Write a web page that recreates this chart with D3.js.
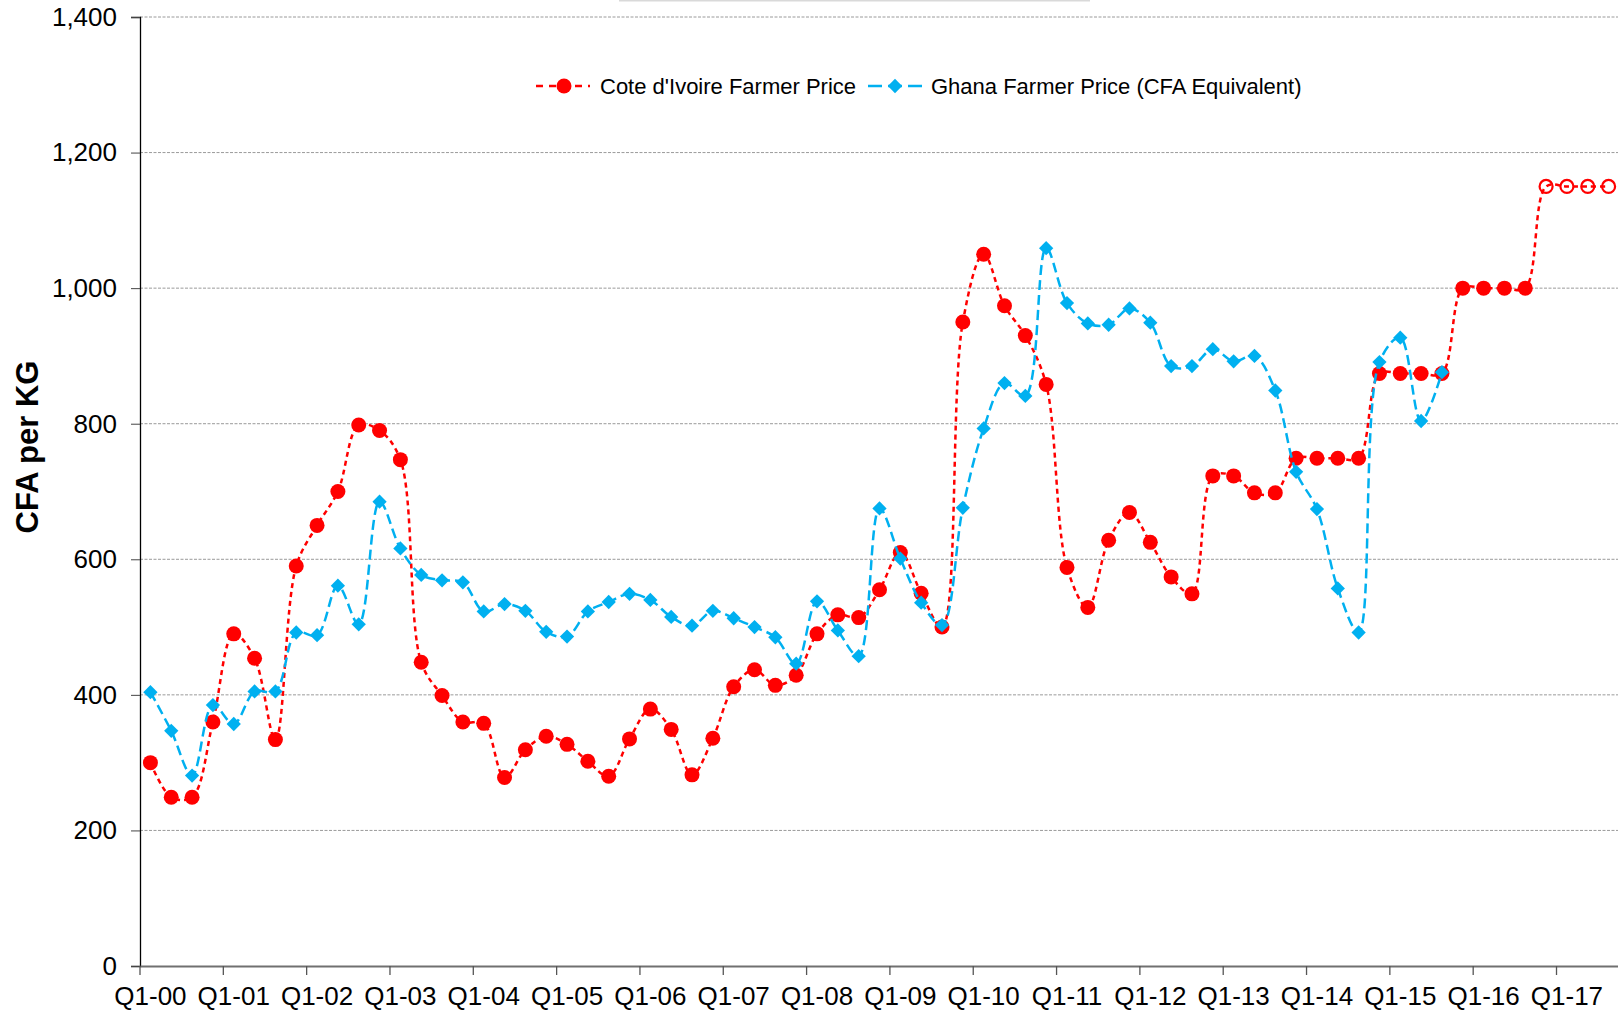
<!DOCTYPE html>
<html>
<head>
<meta charset="utf-8">
<script src="https://cdn.jsdelivr.net/npm/d3@7"></script>
<style>
body{margin:0;background:#fff;}
text{font-family:"Liberation Sans",Arial,sans-serif;fill:#000;}
.grid line{stroke:#9a9a9a;stroke-dasharray:3,1.5;stroke-width:1;}
</style>
</head>
<body>
<svg id="chart" width="1618" height="1011"></svg>
<script>
var years = ["00","01","02","03","04","05","06","07","08","09","10","11","12","13","14","15","16","17"];
var quarterNames = ["Q1","Q2","Q3","Q4"];
var categories = [];
years.forEach(function(y){quarterNames.forEach(function(q){categories.push(q+"-"+y);});});
categories = categories.slice(0,71);

var civPrice = [300,249,249,360,490,454,334,590,650,700,
                798,790,747,448,399,360,358,278,319,339,
                327,302,280,335,379,349,282,336,412,437,
                414,429,490,518,514,555,610,550,500,950,
                1050,974,930,858,588,529,628,669,625,574,
                549,723,723,698,698,749,749,749,749,874,
                874,874,874,1000,1000,1000,1000];
var civForecast = [1150,1150,1150,1150];
var ghanaPrice = [404,347,281,385,357,405,405,492,488,561,
                  504,685,616,577,569,566,523,534,524,493,
                  486,523,537,549,540,515,502,524,513,500,
                  485,446,538,495,457,675,601,536,503,676,
                  793,860,841,1059,978,948,946,970,949,885,
                  885,910,892,900,849,729,674,557,492,891,
                  927,804,876];
var yTicks = [0,200,400,600,800,1000,1200,1400];
var xTickLabels = categories.filter(function(d,i){return i%4==0;});

var svg = d3.select("#chart");
var plotLeft = 140, plotRight = 1619, plotTop = 17, plotBottom = 966;

var xScale = d3.scaleBand()
    .domain(categories)
    .range([plotLeft,plotRight])
    .padding(0);
var bw = xScale.bandwidth();
var cx = function(i){return xScale(categories[i])+bw/2;};

var yScale = d3.scaleLinear()
    .domain([0,1400])
    .range([plotBottom,plotTop]);

// faint title box edge at the top
svg.append("line")
    .attr("x1",619).attr("x2",1090)
    .attr("y1",0.5).attr("y2",0.5)
    .attr("stroke","#d9d9d9")
    .attr("stroke-width",2);

svg.append("g")
    .attr("class","grid")
    .selectAll("line")
    .data(yTicks.filter(function(d){return d>0;}))
    .enter()
    .append("line")
    .attr("x1",plotLeft).attr("x2",1618)
    .attr("y1",function(d){return yScale(d);})
    .attr("y2",function(d){return yScale(d);});

var yAxis = d3.axisLeft(yScale)
    .tickValues(yTicks)
    .tickFormat(d3.format(","))
    .tickSize(9)
    .tickPadding(14);
var gy = svg.append("g")
    .attr("transform","translate("+plotLeft+",0)")
    .call(yAxis);
gy.select(".domain").attr("stroke","#000").attr("stroke-width",1.3);
gy.selectAll(".tick line").attr("stroke","#444");
gy.selectAll("text").style("font-size","26px");

var xAxis = d3.axisBottom(xScale)
    .tickValues(xTickLabels)
    .tickSize(9)
    .tickPadding(12)
    .tickSizeOuter(0);
var gx = svg.append("g")
    .attr("transform","translate(0,"+plotBottom+")")
    .call(xAxis);
gx.select(".domain").attr("stroke","#707070").attr("stroke-width",2);
gx.selectAll(".tick line")
    .attr("x1",-bw/2).attr("x2",-bw/2)
    .attr("stroke","#555").attr("stroke-width",1.3);
gx.selectAll("text").style("font-size","26px");

svg.append("text")
    .text("CFA per KG")
    .attr("text-anchor","middle")
    .attr("transform","translate(38,447) rotate(-90)")
    .style("font-size","31px")
    .style("font-weight","bold");

var civAll = civPrice.concat(civForecast);
var line = d3.line()
    .x(function(d,i){return cx(i);})
    .y(function(d){return yScale(d);})
    .curve(d3.curveCatmullRom.alpha(0.5));

svg.append("path")
    .datum(civAll)
    .attr("d",line)
    .attr("fill","none")
    .attr("stroke","#ff0000")
    .attr("stroke-width",2.5)
    .attr("stroke-dasharray","5,4");

svg.append("g")
    .selectAll("circle")
    .data(civPrice)
    .enter()
    .append("circle")
    .attr("cx",function(d,i){return cx(i);})
    .attr("cy",function(d){return yScale(d);})
    .attr("r",7.5)
    .attr("fill","#ff0000");

svg.append("g")
    .selectAll("circle")
    .data(civForecast)
    .enter()
    .append("circle")
    .attr("cx",function(d,i){return cx(i+civPrice.length);})
    .attr("cy",function(d){return yScale(d);})
    .attr("r",6.5)
    .attr("fill","none")
    .attr("stroke","#ff0000")
    .attr("stroke-width",2.2);

svg.append("path")
    .datum(ghanaPrice)
    .attr("d",line)
    .attr("fill","none")
    .attr("stroke","#00b0f0")
    .attr("stroke-width",2.5)
    .attr("stroke-dasharray","10,5");

var diamond = d3.symbol().type(d3.symbolDiamond2).size(130);
svg.append("g")
    .selectAll("path")
    .data(ghanaPrice)
    .enter()
    .append("path")
    .attr("d",diamond)
    .attr("transform",function(d,i){return "translate("+cx(i)+","+yScale(d)+")";})
    .attr("fill","#00b0f0");

var legend = svg.append("g").attr("transform","translate(0,86)");
legend.append("line")
    .attr("x1",536).attr("x2",590)
    .attr("stroke","#ff0000").attr("stroke-width",2.5)
    .attr("stroke-dasharray","7,6");
legend.append("circle")
    .attr("cx",564).attr("cy",0).attr("r",7.5)
    .attr("fill","#ff0000");
legend.append("text")
    .text("Cote d'Ivoire Farmer Price")
    .attr("x",600).attr("y",8)
    .style("font-size","22px");
legend.append("line")
    .attr("x1",868).attr("x2",922)
    .attr("stroke","#00b0f0").attr("stroke-width",2.5)
    .attr("stroke-dasharray","14,6");
legend.append("path")
    .attr("d",diamond)
    .attr("transform","translate(895,0)")
    .attr("fill","#00b0f0");
legend.append("text")
    .text("Ghana Farmer Price (CFA Equivalent)")
    .attr("x",931).attr("y",8)
    .style("font-size","22px");
</script>
</body>
</html>
